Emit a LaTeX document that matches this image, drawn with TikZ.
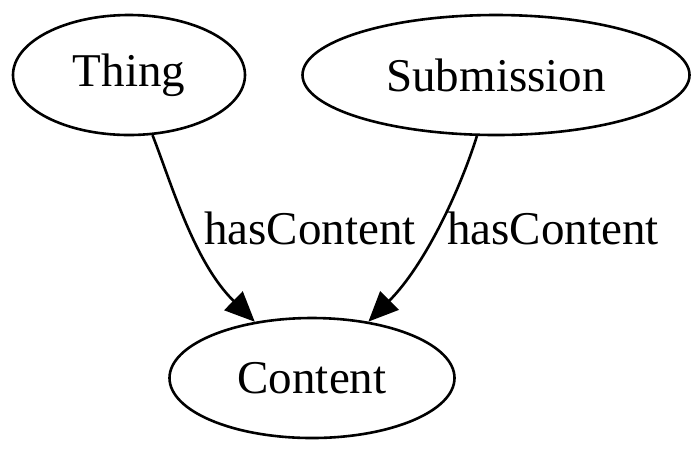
\documentclass[tikz,border=0pt]{standalone}
\usepackage{fontspec}
\setmainfont{Liberation Serif}
\usetikzlibrary{shapes.geometric}
\usetikzlibrary{arrows.meta}

\begin{document}
\begin{tikzpicture}[x=0.5pt,y=-0.5pt,
		cls/.style={draw,ellipse,line width=1.3pt,inner sep=0pt,font=\fontsize{23.5}{26}\selectfont},
		rel/.style={draw,line width=1.3pt,-{Triangle[length=15pt,width=13pt]}},
		lbl/.style={font=\fontsize{23.5}{26}\selectfont,inner sep=0pt}]
		\useasboundingbox (0,0) rectangle (700,452);
		\node [cls,minimum width=116pt,minimum height=60pt] (thing) at (129,75) {Thing};
		\node [cls,minimum width=193.5pt,minimum height=60pt] (submission) at (496,75) {Submission};
		\node [cls,minimum width=142.5pt,minimum height=60pt] (content) at (312,378) {Content};
		\draw [rel] (thing) .. controls (172,185) and (194,262) .. (content);
		\draw [rel] (submission) .. controls (460,190) and (425,265) .. (content);
		\node [lbl] (has1) at (310,228) {hasContent};
		\node [lbl] (has2) at (553,228) {hasContent};
	\end{tikzpicture}
\end{document}
